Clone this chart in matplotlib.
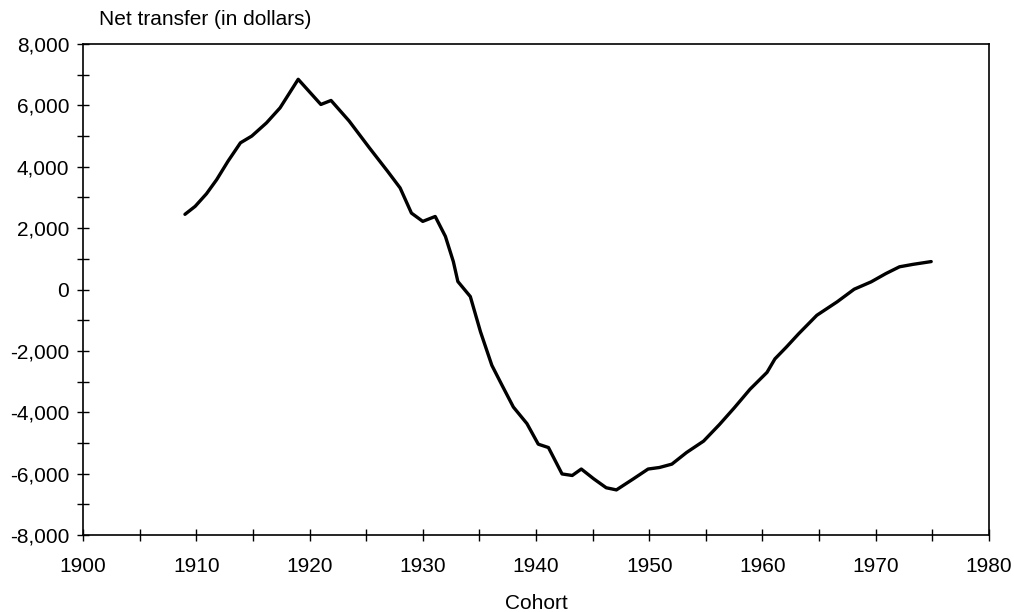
import matplotlib
matplotlib.use("Agg")
import matplotlib.pyplot as plt
from matplotlib.ticker import FuncFormatter, MultipleLocator

# Net transfer by birth cohort
cohort = [1909.0, 1909.9, 1910.9, 1911.8, 1912.8, 1913.9, 1914.9, 1916.2, 1917.4,
          1919.0, 1921.0, 1921.9, 1923.5, 1925.3, 1926.9, 1928.0, 1929.0, 1930.0,
          1931.1, 1932.0, 1932.7, 1933.1, 1934.2, 1935.1, 1936.1, 1937.0, 1938.0,
          1939.2, 1940.2, 1941.1, 1942.3, 1943.2, 1944.0, 1945.1, 1946.2, 1947.1,
          1948.6, 1949.9, 1950.9, 1952.0, 1953.3, 1954.8, 1956.2, 1957.5, 1958.9,
          1960.4, 1961.1, 1962.1, 1963.2, 1964.8, 1966.6, 1968.1, 1969.6, 1970.9,
          1972.1, 1973.3, 1974.9]
net_transfer = [2450, 2710, 3120, 3580, 4180, 4780, 5000, 5430, 5920,
                6850, 6030, 6160, 5490, 4610, 3850, 3310, 2490, 2220,
                2380, 1730, 910, 260, -230, -1380, -2470, -3120, -3830,
                -4370, -5040, -5150, -6010, -6060, -5850, -6170, -6460, -6530,
                -6170, -5850, -5800, -5690, -5310, -4940, -4400, -3860, -3250,
                -2700, -2260, -1880, -1440, -840, -400, 10, 250, 520,
                740, 820, 910]

x_ticks = [1900, 1910, 1920, 1930, 1940, 1950, 1960, 1970, 1980]
y_ticks = [-8000, -6000, -4000, -2000, 0, 2000, 4000, 6000, 8000]

plt.rcParams["font.family"] = ["Liberation Sans", "DejaVu Sans"]

fig = plt.figure(figsize=(10.14, 6.12), dpi=100)
ax = fig.add_axes([0.0819, 0.1258, 0.8934, 0.8023])

ax.plot(cohort, net_transfer, color="black", linewidth=2.4, solid_joinstyle="round",
        solid_capstyle="round")

ax.set_xlim(1900, 1980)
ax.set_ylim(-8000, 8000)
ax.set_xticks(x_ticks)
ax.set_yticks(y_ticks)
ax.xaxis.set_minor_locator(MultipleLocator(5))
ax.yaxis.set_minor_locator(MultipleLocator(1000))
ax.yaxis.set_major_formatter(FuncFormatter(lambda v, _: f"{int(v):,}"))

ax.tick_params(which="both", direction="inout", length=8, width=1.0,
               labelsize=15, top=False, right=False, color="black")
ax.tick_params(axis="x", pad=12)
ax.tick_params(axis="y", pad=6)
for sp in ax.spines.values():
    sp.set_linewidth(1.2)

ax.set_xlabel("Cohort", fontsize=15, labelpad=13)
fig.text(0.0975, 0.953, "Net transfer (in dollars)", fontsize=15, ha="left", va="bottom")

fig.savefig("out.png", dpi=100)
